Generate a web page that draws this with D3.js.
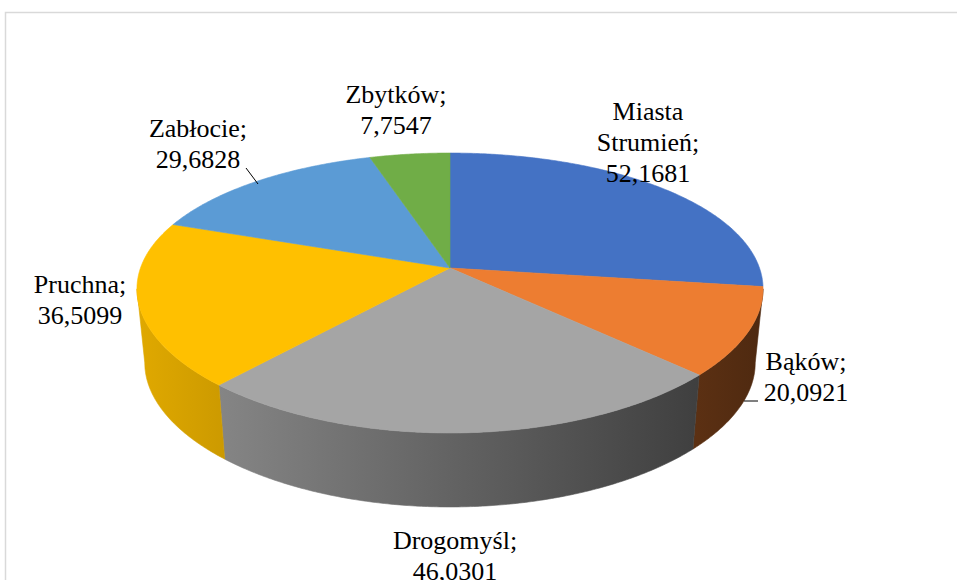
<!DOCTYPE html>
<html>
<head>
<meta charset="utf-8">
<script src="https://cdn.jsdelivr.net/npm/d3@7"></script>
<style>
  html, body { margin: 0; padding: 0; background: #ffffff; }
  svg { display: block; }
</style>
</head>
<body>
<svg id="chart" width="957" height="580"></svg>
<script>
// ---- data ----
const categories = ["Miasta Strumień", "Bąków", "Drogomyśl", "Pruchna", "Zabłocie", "Zbytków"];
const values = [52.1681, 20.0921, 46.0301, 36.5099, 29.6828, 7.7547];
const palette = ["#4472C4", "#ED7D31", "#A5A5A5", "#FFC000", "#5B9BD5", "#70AD47"];

// ---- layout ----
const CX = 450, CY = 268;      // projected centre of the top face
const A = 309.5, CXP = -0.15;  // horizontal scale & perspective
const B = 135.5, CP = -0.1786; // vertical scale & perspective
const DEPTH = 74, BOTTOM_SX = 0.975;
const deg = Math.PI / 180;

const fmt = d3.formatLocale({decimal: ",", thousands: " ", grouping: [3], currency: ["", " zł"]}).format(".4f");
const color = d3.scaleOrdinal().domain(categories).range(palette);

// small angular warp imitating the spreadsheet's 3-D renderer
const warp = d3.scaleLinear()
  .domain([0, 97.7, 135.3, 221.5, 289.9, 345.5, 360].map(a => a * deg))
  .range([0, 97.7, 133.8, 221.5, 289.9, 342.8, 360].map(a => a * deg));

const svg = d3.select("#chart");

// chart border
svg.append("rect")
  .attr("x", 5.5).attr("y", 12.5)
  .attr("width", 1200).attr("height", 1200)
  .attr("fill", "#ffffff")
  .attr("stroke", "#d9d9d9").attr("stroke-width", 1.5);

function proj(phi, level) {
  const u = Math.sin(phi), v = -Math.cos(phi);
  const sx = level ? BOTTOM_SX : 1;
  return [CX + A * sx * u / (1 + CXP * v), CY + B * v / (1 + CP * v) + level * DEPTH];
}

const pie = d3.pie().sort(null).value(d => d.value).startAngle(0).endAngle(2 * Math.PI);
const arcs = pie(categories.map((c, i) => ({name: c, value: values[i]})));
arcs.forEach(d => { d.a0 = warp(d.startAngle); d.a1 = warp(d.endAngle); });

function arcPoints(a0, a1, level) {
  const n = Math.max(2, Math.ceil(Math.abs(a1 - a0) / (Math.PI / 360)));
  const pts = [];
  for (let k = 0; k <= n; k++) pts.push(proj(a0 + (a1 - a0) * k / n, level));
  return pts;
}

const line = d3.line();

// side gradients
const defs = svg.append("defs");
categories.forEach((c, i) => {
  const base = d3.rgb(color(c));
  const g = defs.append("linearGradient")
    .attr("id", "side" + i)
    .attr("gradientUnits", "userSpaceOnUse")
    .attr("x1", CX - 313).attr("x2", CX + 313).attr("y1", 0).attr("y2", 0);
  [[0, 0.88], [0.5, 0.6], [1, 0.33]].forEach(([o, f]) => {
    g.append("stop").attr("offset", o)
      .attr("stop-color", d3.rgb(base.r * f, base.g * f, base.b * f).formatHex());
  });
});

// visible side range (front half, between silhouettes)
const phiR = Math.PI - Math.acos(-CXP); // ~98.6°
const phiL = 2 * Math.PI - phiR;        // ~261.4°

const sideG = svg.append("g");
arcs.forEach((d, i) => {
  const s0 = Math.max(d.a0, phiR), s1 = Math.min(d.a1, phiL);
  if (s1 <= s0) return;
  const top = arcPoints(s0, s1, 0);
  const bot = arcPoints(s1, s0, 1);
  sideG.append("path")
    .attr("d", line(top.concat(bot)) + "Z")
    .attr("fill", "url(#side" + i + ")")
    .attr("stroke", "url(#side" + i + ")").attr("stroke-width", 0.6);
});

// top faces
const topG = svg.append("g");
arcs.forEach((d, i) => {
  const pts = [[CX, CY]].concat(arcPoints(d.a0, d.a1, 0));
  topG.append("path")
    .attr("d", line(pts) + "Z")
    .attr("fill", color(d.data.name))
    .attr("stroke", color(d.data.name)).attr("stroke-width", 0.6)
    .attr("stroke-linejoin", "round");
});

// labels
const labelLayout = {
  "Miasta Strumień": {x: 648, y: 120, lines: ["Miasta", "Strumień;"]},
  "Bąków": {x: 806, y: 370},
  "Drogomyśl": {x: 455, y: 549},
  "Pruchna": {x: 80, y: 293},
  "Zabłocie": {x: 198, y: 137},
  "Zbytków": {x: 396, y: 103}
};
const LH = 31;
const labG = svg.append("g")
  .attr("font-family", "'Liberation Serif', 'Times New Roman', serif")
  .attr("font-size", 26).attr("fill", "#000").attr("text-anchor", "middle");
arcs.forEach(d => {
  const L = labelLayout[d.data.name];
  const lines = (L.lines || [d.data.name + ";"]).concat([fmt(d.data.value)]);
  const t = labG.append("text").attr("x", L.x).attr("y", L.y);
  lines.forEach((s, k) => {
    t.append("tspan").attr("x", L.x).attr("y", L.y + k * LH).text(s);
  });
});

// leader lines
const leaders = [
  [[246, 168], [258, 184]],
  [[744, 401], [758, 401]]
];
svg.append("g").selectAll("path").data(leaders).join("path")
  .attr("d", d => line(d))
  .attr("stroke", "#000").attr("stroke-width", 1).attr("fill", "none");
</script>
</body>
</html>
